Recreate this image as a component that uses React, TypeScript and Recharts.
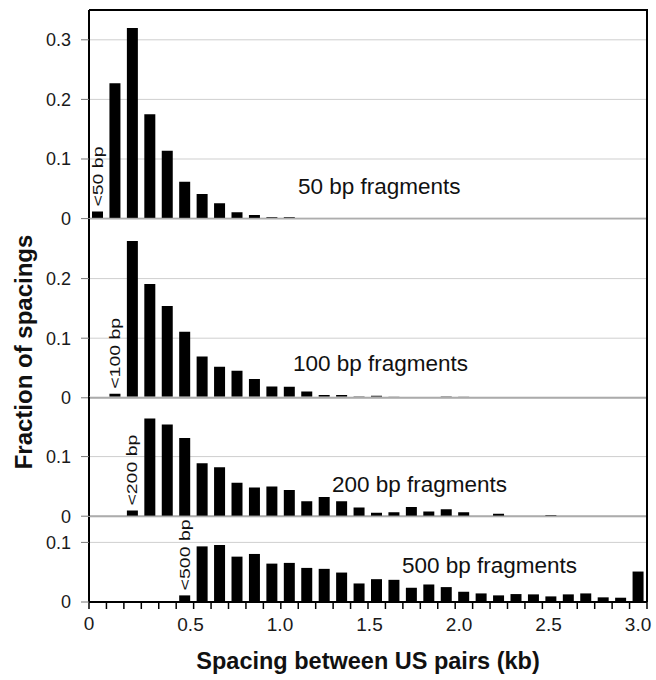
import React from 'react';
import { BarChart, Bar, XAxis, YAxis, CartesianGrid, LabelList, Label } from 'recharts';

const FONT = '"Liberation Sans", Arial, Helvetica, sans-serif';

// ==========================================
// DATA
// ==========================================

// 0.1 kb bins, centre of each bin (kb)
const binCentres = [
  0.05, 0.15, 0.25, 0.35, 0.45, 0.55, 0.65, 0.75, 0.85, 0.95,
  1.05, 1.15, 1.25, 1.35, 1.45, 1.55, 1.65, 1.75, 1.85, 1.95,
  2.05, 2.15, 2.25, 2.35, 2.45, 2.55, 2.65, 2.75, 2.85, 2.95,
  3.05, 3.15,
];

// bin edges -> small tick marks
const binEdges = [
  0, 0.1, 0.2, 0.3, 0.4, 0.5, 0.6, 0.7, 0.8, 0.9,
  1.0, 1.1, 1.2, 1.3, 1.4, 1.5, 1.6, 1.7, 1.8, 1.9,
  2.0, 2.1, 2.2, 2.3, 2.4, 2.5, 2.6, 2.7, 2.8, 2.9,
  3.0, 3.1, 3.2,
];

const kbLabels = [0.5, 1.0, 1.5, 2.0, 2.5, 3.0];

const frag50 = [
  0.0117, 0.227, 0.320, 0.175, 0.114, 0.062, 0.0413, 0.0257, 0.0106, 0.0061,
  0.0022, 0.0022, 0.0005, 0.0005, 0.001, 0, 0, 0.0005, 0, 0,
  0, 0, 0, 0, 0, 0, 0, 0, 0, 0,
  0, 0,
];

const frag100 = [
  0, 0.0067, 0.263, 0.191, 0.154, 0.111, 0.0695, 0.052, 0.0454, 0.0314,
  0.019, 0.0185, 0.0105, 0.0045, 0.0045, 0.002, 0.0035, 0.0017, 0.0012, 0,
  0.002, 0.0017, 0.0012, 0, 0, 0, 0.001, 0, 0, 0,
  0, 0,
];

const frag200 = [
  0, 0, 0.0094, 0.164, 0.154, 0.131, 0.089, 0.082, 0.056, 0.048,
  0.050, 0.044, 0.025, 0.032, 0.025, 0.0144, 0.0056, 0.0067, 0.0156, 0.0078,
  0.0115, 0.0067, 0, 0.0042, 0, 0, 0.0016, 0, 0, 0,
  0, 0,
];

const frag500 = [
  0, 0, 0, 0, 0, 0.0111, 0.0933, 0.0956, 0.0761, 0.0806,
  0.0644, 0.0656, 0.0572, 0.0556, 0.0494, 0.0311, 0.0383, 0.0372, 0.0239, 0.0294,
  0.025, 0.0172, 0.0144, 0.0111, 0.0133, 0.0128, 0.0094, 0.0128, 0.0144, 0.0078,
  0.0072, 0.0511,
];

const panelTitles = ['50 bp fragments', '100 bp fragments', '200 bp fragments', '500 bp fragments'];
const cutoffNotes = ['<50 bp', '<100 bp', '<200 bp', '<500 bp'];
const cutoffBins = [0, 1, 2, 5];

const yTicks = [
  [0, 0.1, 0.2, 0.3],
  [0, 0.1, 0.2],
  [0, 0.1],
  [0, 0.1],
];
const yMax = [0.35, 0.3, 0.2, 0.1426];

// ==========================================
// LAYOUT
// ==========================================

const W = 656;
const PLOT_LEFT = 89;
const PLOT_RIGHT = 647;
const MARGIN_TOP = 14;
const plotTops = [10, 218.6, 397.4, 516.6];
const plotHeights = [208.6, 178.8, 119.2, 85];
// where the panel titles sit (text start x, baseline y)
const titlePos = [
  [298, 194],
  [293, 371],
  [332, 492],
  [402, 573],
];

const seriesList = [frag50, frag100, frag200, frag500];

const renderNote = (props: any) => {
  const { value } = props;
  if (!value) return null;
  const vb = props.viewBox ?? props;
  const cx = vb.x + vb.width / 2;
  const top = vb.y - 5;
  return (
    <text
      transform={`translate(${cx},${top}) rotate(-90) scale(1,0.75)`}
      fontSize={19.5}
      fontFamily={FONT}
      fill="#111"
      dominantBaseline="central"
      textAnchor="start"
    >
      {value}
    </text>
  );
};

function Panel({ idx }: { idx: number }) {
  const values = seriesList[idx];
  const isBottom = idx === 3;
  const data = binCentres.map((kb, i) => ({
    kb,
    value: values[i],
    note: i === cutoffBins[idx] ? cutoffNotes[idx] : '',
  }));

  const plotH = plotHeights[idx];
  const xAxisH = isBottom ? 1 : 6;
  const labAxisH = isBottom ? 74 : 0;
  const bottomMargin = isBottom ? 0 : 4;
  const h = MARGIN_TOP + plotH + xAxisH + labAxisH + bottomMargin;

  return (
    <div style={{ position: 'absolute', left: 0, top: plotTops[idx] - MARGIN_TOP }}>
      <BarChart
        width={W}
        height={h}
        data={data}
        margin={{ top: MARGIN_TOP, right: W - PLOT_RIGHT, bottom: bottomMargin, left: 0 }}
      >
        <CartesianGrid horizontal vertical={false} stroke="#cfcfcf" strokeWidth={1} />
        <XAxis
          dataKey="kb"
          type="number"
          domain={[0, 3.2]}
          allowDataOverflow
          ticks={binEdges}
          interval={0}
          height={xAxisH}
          axisLine={isBottom ? { stroke: '#000', strokeWidth: 2 } : { stroke: '#8a8a8a', strokeWidth: 1.5 }}
          tickLine={isBottom ? { stroke: '#000', strokeWidth: 1.5 } : { stroke: '#b0b0b0' }}
          tickSize={isBottom ? 7 : 4}
          tickMargin={8}
          tick={isBottom ? { fill: '#1a1a1a', fontSize: 19, fontFamily: FONT } : false}
          tickFormatter={(v: number) => (v === 0 ? '0' : '')}
        />
        {isBottom && (
          <XAxis
            xAxisId="lab"
            dataKey="kb"
            type="number"
            domain={[-0.067, 3.05]}
            allowDataOverflow
            ticks={kbLabels}
            interval={0}
            height={labAxisH}
            axisLine={false}
            tickLine={false}
            tickSize={7}
            tickMargin={8}
            tick={{ fill: '#1a1a1a', fontSize: 19, fontFamily: FONT }}
            tickFormatter={(v: number) => v.toFixed(1)}
          >
            <Label
              value="Spacing between US pairs (kb)"
              position="insideBottom"
              offset={8}
              style={{ fontSize: 23.5, fontWeight: 700, fontFamily: FONT, fill: '#111' }}
            />
          </XAxis>
        )}
        <YAxis
          type="number"
          domain={[0, yMax[idx]]}
          allowDataOverflow
          ticks={yTicks[idx]}
          interval={0}
          width={PLOT_LEFT}
          axisLine={{ stroke: '#000', strokeWidth: 2 }}
          tickLine={{ stroke: '#777' }}
          tickSize={8}
          tickMargin={10}
          tick={{ fill: '#1a1a1a', fontSize: 18, fontFamily: FONT }}
          tickFormatter={(v: number) => (v === 0 ? '0' : String(v))}
        />
        <Bar dataKey="value" fill="#000" barSize={11} isAnimationActive={false}>
          <LabelList dataKey="note" content={renderNote} />
        </Bar>
      </BarChart>
    </div>
  );
}

export default function App() {
  return (
    <div
      style={{
        position: 'absolute',
        left: 0,
        top: 0,
        width: W,
        height: 680,
        background: '#fff',
        fontFamily: FONT,
      }}
    >
      {[0, 1, 2, 3].map((i) => (
        <Panel key={i} idx={i} />
      ))}

      {/* frame: top + right border */}
      <div
        style={{
          position: 'absolute',
          left: PLOT_LEFT,
          top: 9,
          width: PLOT_RIGHT - PLOT_LEFT + 1,
          height: 593,
          borderTop: '2px solid #000',
          borderRight: '2px solid #000',
          boxSizing: 'border-box',
          pointerEvents: 'none',
        }}
      />

      {/* titles */}
      <svg
        width={W}
        height={680}
        style={{ position: 'absolute', left: 0, top: 0, pointerEvents: 'none' }}
      >
        {panelTitles.map((t, i) => (
          <text
            key={t}
            x={titlePos[i][0]}
            y={titlePos[i][1]}
            fontSize={22.5}
            fontFamily={FONT}
            fill="#111"
          >
            {t}
          </text>
        ))}
        <text
          transform="translate(23,352) rotate(-90)"
          textAnchor="middle"
          dominantBaseline="central"
          fontSize={24}
          fontWeight={700}
          fontFamily={FONT}
          fill="#111"
        >
          Fraction of spacings
        </text>
      </svg>
    </div>
  );
}
